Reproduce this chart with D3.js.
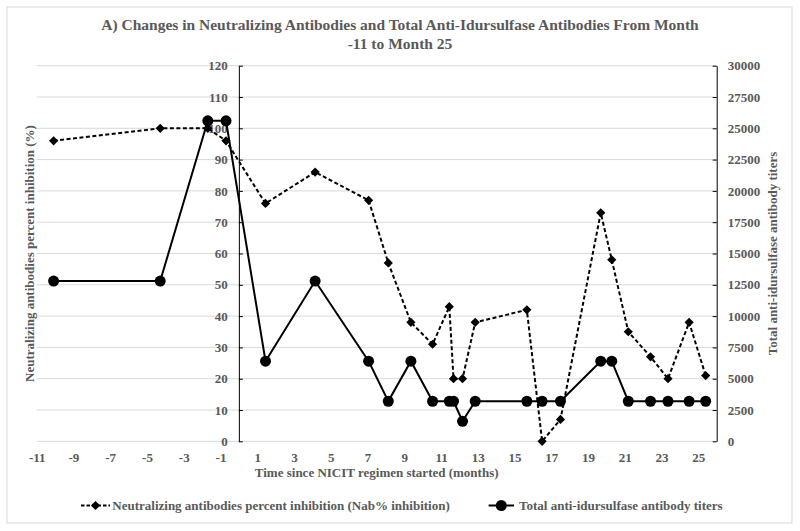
<!DOCTYPE html>
<html>
<head>
<meta charset="utf-8">
<script src="https://cdn.jsdelivr.net/npm/d3@7"></script>
<style>
  html, body { margin: 0; padding: 0; background: #fff; }
  svg text { font-family: "Liberation Serif", "Times New Roman", serif; font-weight: bold; fill: #595959; }
</style>
</head>
<body>
<svg id="chart" width="800" height="531"></svg>
<script>
// ---- Data ----
const months = [-10.08, -4.28, -1.69, -0.7, 1.45, 4.15, 7.06, 8.13, 9.36, 10.54, 11.45, 11.68, 12.17, 12.86, 15.67, 16.5, 17.5, 19.69, 20.29, 21.19, 22.4, 23.35, 24.5, 25.4];
const nabInhibition = [96, 100, 100, 96, 76, 86, 77, 57, 38, 31, 43, 20, 20, 38, 42, 0, 7, 73, 58, 35, 27, 20, 38, 21];
const antibodyTiters = [12800, 12800, 25600, 25600, 6400, 12800, 6400, 3200, 6400, 3200, 3200, 3200, 1600, 3200, 3200, 3200, 3200, 6400, 6400, 3200, 3200, 3200, 3200, 3200];
const xTicks = d3.range(-11, 26, 2);
const leftTicks = d3.range(0, 121, 10);
const rightTicks = d3.range(0, 30001, 2500);
const seriesNames = ["Neutralizing antibodies percent inhibition (Nab% inhibition)", "Total anti-idursulfase antibody titers"];
const titleLines = ["A) Changes in Neutralizing Antibodies and Total Anti-Idursulfase Antibodies From Month", "-11 to Month 25"];
const xTitle = "Time since NICIT regimen started (months)";
const yLeftTitle = "Neutralizing antibodies percent inhibition (%)";
const yRightTitle = "Total anti-idursulfase antibody titers";

// ---- Layout ----
const svg = d3.select("#chart");
const plot = { left: 36.7, right: 716.7, top: 65.7, bottom: 441.3 };
const x = d3.scaleLinear().domain([-11, 26]).range([plot.left, plot.right]);
const yL = d3.scaleLinear().domain([0, 120]).range([plot.bottom, plot.top]);
const yR = d3.scaleLinear().domain([0, 30000]).range([plot.bottom, plot.top]);
const plain = d => String(d);

// outer border
svg.append("rect").attr("x", 7).attr("y", 7).attr("width", 785).attr("height", 516)
  .attr("fill", "#fff").attr("stroke", "#d9d9d9").attr("stroke-width", 1);

// title
svg.append("g").selectAll("text").data(titleLines).join("text")
  .attr("x", 400).attr("y", (d, i) => 30 + i * 18.5)
  .attr("text-anchor", "middle").style("font-size", "15.5px").text(d => d);

// gridlines
svg.append("g").selectAll("line").data(leftTicks).join("line")
  .attr("x1", plot.left).attr("x2", plot.right)
  .attr("y1", d => yL(d)).attr("y2", d => yL(d))
  .attr("stroke", "#d9d9d9").attr("stroke-width", 1);

// x axis (labels only)
const gx = svg.append("g").attr("transform", `translate(0,${plot.bottom})`)
  .call(d3.axisBottom(x).tickValues(xTicks).tickSize(0).tickPadding(11.5).tickFormat(plain));
gx.select(".domain").remove();
gx.selectAll("text").style("font-size", "13px").attr("fill", "#595959");

// left axis at x = 0
const gl = svg.append("g").attr("transform", `translate(${x(0)},0)`)
  .call(d3.axisLeft(yL).tickValues(leftTicks).tickSizeInner(-4).tickSizeOuter(0).tickPadding(11).tickFormat(plain));
gl.select(".domain").attr("stroke", "#000");
gl.selectAll(".tick line").attr("stroke", "#000");
gl.selectAll("text").style("font-size", "13px").attr("fill", "#595959");

// right axis
const gr = svg.append("g").attr("transform", `translate(${plot.right},0)`)
  .call(d3.axisRight(yR).tickValues(rightTicks).tickSizeInner(-4).tickSizeOuter(0).tickPadding(11).tickFormat(plain));
gr.select(".domain").attr("stroke", "#000");
gr.selectAll(".tick line").attr("stroke", "#000");
gr.selectAll("text").style("font-size", "13px").attr("fill", "#595959");

// axis titles
svg.append("text").attr("x", (plot.left + plot.right) / 2).attr("y", 477)
  .attr("text-anchor", "middle").style("font-size", "13px").text(xTitle);
svg.append("text").attr("transform", `translate(34,${(plot.top + plot.bottom) / 2}) rotate(-90)`)
  .attr("text-anchor", "middle").style("font-size", "13px").text(yLeftTitle);
svg.append("text").attr("transform", `translate(777,${(plot.top + plot.bottom) / 2}) rotate(-90)`)
  .attr("text-anchor", "middle").style("font-size", "13px").text(yRightTitle);

// series
const nabData = months.map((m, i) => [m, nabInhibition[i]]);
const titerData = months.map((m, i) => [m, antibodyTiters[i]]);
const diamondPath = "M0,-4.6L4.6,0L0,4.6L-4.6,0Z";

svg.append("path").datum(nabData)
  .attr("d", d3.line().x(d => x(d[0])).y(d => yL(d[1])))
  .attr("fill", "none").attr("stroke", "#000").attr("stroke-width", 2).attr("stroke-dasharray", "4,2.5");
svg.append("g").selectAll("path").data(nabData).join("path")
  .attr("transform", d => `translate(${x(d[0])},${yL(d[1])})`)
  .attr("d", diamondPath).attr("fill", "#000");

svg.append("path").datum(titerData)
  .attr("d", d3.line().x(d => x(d[0])).y(d => yR(d[1])))
  .attr("fill", "none").attr("stroke", "#000").attr("stroke-width", 2);
svg.append("g").selectAll("circle").data(titerData).join("circle")
  .attr("cx", d => x(d[0])).attr("cy", d => yR(d[1])).attr("r", 5.5).attr("fill", "#000");

// legend
const lg = svg.append("g");
lg.append("line").attr("x1", 81).attr("x2", 110).attr("y1", 505.5).attr("y2", 505.5)
  .attr("stroke", "#000").attr("stroke-width", 2).attr("stroke-dasharray", "3.5,2");
lg.append("path").attr("transform", "translate(95.5,505.5)").attr("d", diamondPath).attr("fill", "#000");
lg.append("text").attr("x", 112.3).attr("y", 510).style("font-size", "13px").text(seriesNames[0]);
lg.append("line").attr("x1", 488.6).attr("x2", 514).attr("y1", 505.5).attr("y2", 505.5)
  .attr("stroke", "#000").attr("stroke-width", 2);
lg.append("circle").attr("cx", 501.3).attr("cy", 505.5).attr("r", 5.5).attr("fill", "#000");
lg.append("text").attr("x", 519).attr("y", 510).style("font-size", "13px").text(seriesNames[1]);
</script>
</body>
</html>
